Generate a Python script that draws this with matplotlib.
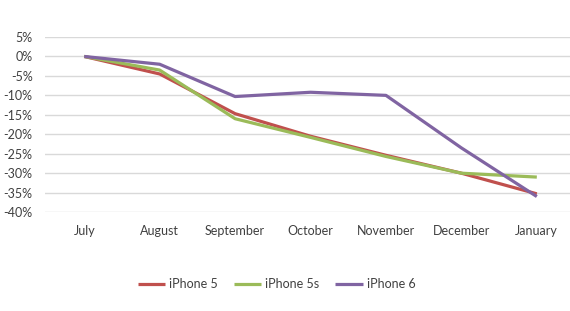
import matplotlib.pyplot as plt
from matplotlib.ticker import FuncFormatter

plt.rcParams['font.family'] = ['Lato', 'DejaVu Sans']

# Data (percent change from July)
months = ['July', 'August', 'September', 'October', 'November', 'December', 'January']
iphone5 = [0, -4.5, -14.7, -20.5, -25.4, -30.0, -35.3]
iphone5s = [0, -3.5, -16.0, -20.8, -25.7, -30.0, -31.0]
iphone6 = [0, -2.0, -10.3, -9.2, -10.0, -23.5, -36.0]

series = [('iPhone 5', iphone5, '#C0504D'),
          ('iPhone 5s', iphone5s, '#9BBB59'),
          ('iPhone 6', iphone6, '#8064A2')]

fig = plt.figure(figsize=(5.7, 3.11), dpi=100)
ax = fig.add_axes([0.079, 0.318, 0.921, 0.563])

x = range(len(months))
for name, vals, color in series:
    ax.plot(x, vals, color=color, linewidth=2.3, label=name, solid_capstyle='butt')

ax.set_ylim(-40, 5)
ax.set_yticks(range(-40, 6, 5))
ax.yaxis.set_major_formatter(FuncFormatter(lambda v, p: '%d%%' % v))
ax.set_xlim(-0.52, 6.44)
ax.set_xticks(list(x))
ax.set_xticklabels(months)
ax.grid(axis='y', color='#d9d9d9', linewidth=1)
ax.set_axisbelow(True)
for s in ax.spines.values():
    s.set_visible(False)
ax.tick_params(length=0, labelsize=9, colors='#404040')
ax.tick_params(axis='y', pad=9)
ax.tick_params(axis='x', pad=9)

fig.legend(loc='center', bbox_to_anchor=(0.485, 0.087), ncol=3, frameon=False,
           fontsize=9, handlelength=2.2, handletextpad=0.3, columnspacing=1.3,
           labelcolor='#404040')

fig.savefig('out.png', dpi=100)
